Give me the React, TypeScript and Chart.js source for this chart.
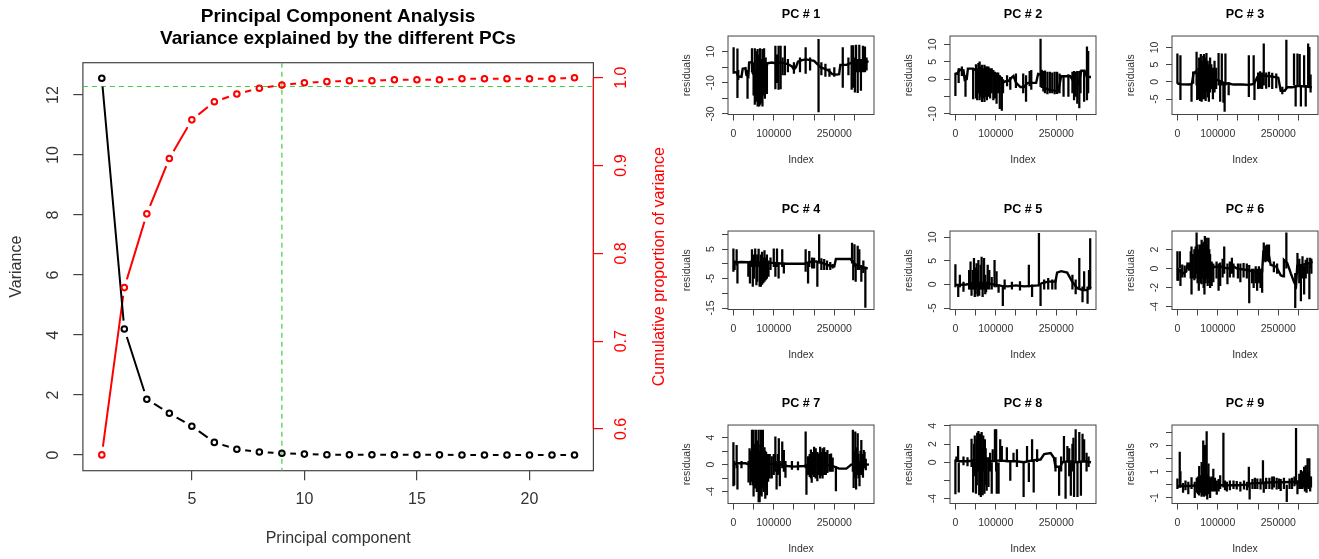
import React, { useEffect, useRef } from "react";
import { Chart, registerables } from "chart.js";

Chart.register(...registerables);

const FONT = "'Liberation Sans', Arial, Helvetica, sans-serif";

// ---------------- Left chart: PCA scree plot ----------------
const pcNumbers = [1, 2, 3, 4, 5, 6, 7, 8, 9, 10, 11, 12, 13, 14, 15, 16, 17, 18, 19, 20, 21, 22];
const pcVariance = [12.56, 4.2, 1.86, 1.39, 0.96, 0.42, 0.19, 0.1, 0.06, 0.03, 0.01, 0.01, 0.01, 0.01, 0.01, 0.005, 0, 0, 0, 0, 0, 0];
const pcCumulative = [0.5705, 0.761, 0.845, 0.908, 0.952, 0.9727, 0.9814, 0.988, 0.9916, 0.9943, 0.9955, 0.9966, 0.9966, 0.9977, 0.9977, 0.9977, 0.9989, 0.9989, 0.9989, 0.9989, 0.9989, 1.0];
const pcXTicks = [5, 10, 15, 20];
const pcXTickLabels = ["5", "10", "15", "20"];
const varianceTicks = [0, 2, 4, 6, 8, 10, 12];
const varianceTickLabels = ["0", "2", "4", "6", "8", "10", "12"];
const cumulativeTicks = [0.6, 0.7, 0.8, 0.9, 1.0];
const cumulativeTickLabels = ["0.6", "0.7", "0.8", "0.9", "1.0"];
const cutoffComponent = 9;
const cutoffProportion = 0.99;

// ---------------- Residual panels (index in thousands) ----------------
const indexTicks = [0, 50, 100, 150, 200, 250, 300];
const indexTickLabels = ["0", "", "100000", "", "", "250000", ""];

const pc1Level = [[0,-3],[8,-3.5],[12,-6],[20,-6.3],[23,-1],[30,-0.6],[32,-5],[37,-6],[39,3],[46,3.2],[48,-4],[55,-5.4],[65,-5],[72,-5.5],[80,-4],[84,2.5],[95,3],[105,2.5],[115,3],[125,2.6],[135,2],[145,0.5],[150,-1.5],[155,0],[160,3.5],[170,4.5],[180,5],[190,4.5],[200,4],[208,2],[215,0],[225,-1],[235,-2],[245,-4.5],[255,-4.8],[262,-4.5],[265,1.5],[280,1.5],[295,3],[310,4],[320,4],[335,3.5]];
const pc1Spikes = [[0.5,-4,12.5],[10,-19.6,11.7],[12,-8,-2],[35,-20,-2],[46,-3,12],[50,-18,3],[53,-24,12],[56,-22,-2],[58,-12,10],[60,-25,11.5],[62,-20,0],[64,-25,8],[66,-24,12],[68,-15,5],[70,-23,-3],[72,-25,11.5],[74,-18,4],[76,-12,12],[78,-20,3],[80,-16,6],[83,-17,3],[104,-14,13.6],[108,-10,8],[112,-14.3,13.6],[117,-14,13.6],[122,-5,6],[127.5,-5,13.6],[135,-3,5],[150,-4,3],[165,-3,6],[179,-4,12.5],[190,-2,6],[211,-28.7,17.8],[218,-5,3],[228,-6,2],[238,-6,-1],[250,-6,0],[271,-13,12.5],[285,-5,6],[293,-14.3,13.8],[297,-13,13.8],[301,-16,6],[304,-3,14.2],[308,-16.4,5],[312,-3,14.2],[316,-15,5],[321,-3,13.5],[326,-3,13],[330,-2,6]];
const pc1YTicks = [-30, -20, -10, 0, 10];
const pc1YLabels = ["-30", "", "-10", "", "10"];

const pc2Level = [[0,1.7],[5,1.5],[10,2.7],[20,2.5],[23,-0.2],[28,0],[31,3],[44,3],[51,2.5],[60,2.2],[70,2.5],[80,2.3],[94,1.2],[100,-1],[106,1],[112,0.5],[118,-1],[123,-0.7],[132,-0.5],[140,0.5],[144,0.9],[150,-1],[161,-2.3],[170,-2.3],[175,-1.5],[180,-1.1],[200,-1.1],[205,1.5],[215,1.2],[219,-2.5],[235,-3.2],[255,-3.5],[262,0.8],[285,0.8],[294,-1],[305,-1.5],[312,2.4],[320,2.4],[326,0.6],[336,0.6]];
const pc2Spikes = [[0,-4.8,1.7],[8,-1,3],[16,1,3.5],[25,-5,1],[44,-5.7,3],[51,-5.5,4.2],[54,-6,3],[57,-4,4.5],[60,-6,5],[63,-5,3.5],[66,-6.5,4],[69,-5.5,3],[72,-6.5,4],[75,-5,3.5],[78,-6,3.5],[82,-5,3.5],[86,-5.5,3],[90,-4,3],[94,-6,2.5],[98,-5.5,2],[102,-7,1.8],[106,-4,1.8],[110,-8.5,1],[115,-9,0.5],[118,-4,0],[128,-2,1],[136,-3,0.5],[150,-2.5,1.5],[168,-4,1.5],[175,-6.4,1],[184,-2,2.2],[188,-3,2.5],[211,-2.2,11.5],[214,-2.5,2.6],[218,-3.5,2.2],[222,-4,2.4],[228,-4.3,2],[234,-4,2],[240,-4,1.8],[246,-4.3,2],[252,-4.2,2],[258,-4,1.5],[268,-5,1],[280,-5,1.3],[290,-4,2],[294,-6,2.2],[298,-5,2],[302,-7,2.2],[307,-8.3,2.2],[310,-4,2.4],[319,-6.4,2.4],[326,-6,9.3],[329,-4,8]];
const pc2YTicks = [-10, -5, 0, 5, 10];
const pc2YLabels = ["-10", "", "0", "5", "10"];

const pc3Level = [[0,-0.5],[10,-0.7],[30,-0.8],[36,-0.5],[40,2.5],[45,2.9],[52,1.5],[60,1.4],[70,0.8],[80,1],[90,0.5],[100,0.5],[110,0],[118,-0.5],[127,-0.5],[139,-0.8],[160,-0.8],[177,-0.9],[190,-0.6],[198,1.4],[210,1.8],[230,1.6],[250,1.2],[256,-2.6],[266,-2.6],[272,-1.6],[285,-1.6],[300,-1.2],[320,-1.4],[333,-1.6]];
const pc3Spikes = [[0,-0.5,8.1],[7.5,-5.2,7.6],[35,-5.7,-0.5],[39,-0.5,2.9],[47.5,-1,8.6],[49,-5.2,1],[52,-5,4],[54,-4,7],[56,-5.5,5],[58,-4,8],[60,-5.7,6],[62,-5,4.5],[64,-3,7.5],[66,-5,8],[68,-4,6],[70,-5.5,7],[72,-3,8.3],[75,-4.5,6],[78,-5.7,5],[81,-3,7],[84,-2,5],[88,-5,4],[92,-3,6],[96,-2,4],[102,-1,8.3],[106,-5.7,0],[110,-1,8.1],[114,-6,0],[117,-8.6,0],[119,-1,8.1],[127,-3.8,0],[177,-4.3,7.6],[189,-0.5,7.6],[191,-5.2,-0.5],[200,-2,2.6],[205,-1.9,3],[210,-2,2.6],[214,-1,11],[220,-1.9,2.6],[227,-1.5,2.8],[235,-2,2.5],[245,-1.8,2.3],[260,-3.5,-1.5],[270,-2,12.1],[289,-1,8.1],[293,-7.1,-1],[297.5,-1,8.1],[303,-1,8],[306,-7.1,-1],[314,-1,7.6],[318,-7.1,-1],[324,-1.5,11],[327,-1.5,10],[330,-3,2]];
const pc3YTicks = [-5, 0, 5, 10];
const pc3YLabels = ["-5", "0", "5", "10"];

const pc4Level = [[0,0.5],[10,0.5],[20,0.6],[37,0.5],[45,0.8],[60,0.5],[80,0.3],[100,0.3],[125,0],[150,0],[175,0],[190,0.6],[205,0.8],[220,0.3],[235,-0.5],[250,-0.9],[254,1.6],[275,1.6],[290,1.6],[300,0],[315,-1],[327,-1.5],[333,-1.5]];
const pc4Spikes = [[0,-2.6,5.1],[3,-2,1],[8,-0.5,4.8],[10,-6.6,0.5],[37,-4.3,0.5],[41,-6.6,0.5],[46,-1,4.8],[48,-7.7,0.5],[51,-5,3],[54,-1,5.1],[57,-7.2,0.5],[59,-6,3],[62.5,-1,5],[65,-7.7,0.5],[68,-7.7,3],[71,-7,4],[74,-6.5,2],[77,-6,4.5],[80,-5.5,2],[83,-5,3],[87,-4.3,1],[92,-2,2],[100,-1,5.1],[104,-4.3,0.5],[108,-1,5.1],[112,-4.9,0.3],[121,-1,4.8],[125,-3.2,0.3],[179,-2.6,4.8],[185,-6.6,0],[188,-1,4.2],[195,-1.5,2],[200,-1.5,1.9],[208,-7.7,0.5],[212.5,0,9.9],[218,-2,1.8],[225,-2,1.5],[232,-2,1],[240,-2,0.5],[246,-1.5,0],[294,0,7],[297,-5.5,1],[300,-1,6.5],[303,-6,0],[308,-2,6],[312,-2,4.8],[317,-6,-0.5],[322,-3,1],[327,-14.8,-1]];
const pc4YTicks = [-15, -10, -5, 0, 5, 10];
const pc4YLabels = ["-15", "", "-5", "", "5", ""];

const pc5Level = [[0,-0.1],[10,-0.1],[27,0],[40,0.2],[60,0.3],[80,0.2],[100,-0.1],[115,-0.3],[130,-0.4],[150,-0.2],[170,-0.4],[190,-0.3],[205,-0.2],[215,0.3],[230,0.6],[248,0.6],[252,2.5],[262,2.8],[277,2.5],[290,0.5],[302,-0.8],[315,-1.2],[325,-1.2],[336,-0.5]];
const pc5Spikes = [[0,-0.5,4.2],[7,-2.6,0],[11,-0.5,2],[20,-1.5,0.5],[34,-1,3],[37.5,-1,4.8],[40,-2.3,0.5],[43,-1,3],[46,-1,5.5],[48,-2.6,0.5],[50,-2,3.5],[52.5,-1,4.4],[55,-2.5,3],[57,-1,5.1],[59,-2.3,0.5],[62.5,-1,4.1],[65,-1,5.8],[67.5,-2.6,0.5],[71,-1,5.5],[74,-2,2],[76,-1.6,0.5],[80,-1,4.1],[84,-1,3],[90,-1,1.5],[97,-0.5,5.1],[102,-0.5,2.7],[107,-1.7,0],[117.5,-4.5,-0.3],[122,-1,1],[140,-1,0.5],[160,-1.2,0.6],[182,-0.5,4.1],[190,-2.6,0],[207,-0.3,10.8],[211,-4.5,0],[220,-1,1],[230,-1,1.3],[240,-1,1],[248,-1,1],[290,-1,2],[298,-2,1],[307,-1,5.5],[315,-3.7,-0.5],[319,-1,2.7],[327.5,-4,-0.5],[331,-1,3],[334,-1,9.7]];
const pc5YTicks = [-5, 0, 5, 10];
const pc5YLabels = ["-5", "0", "5", "10"];

const pc6Level = [[0,0],[6,-0.3],[15,-0.5],[22,-0.3],[25,0.5],[31,0.3],[40,0.5],[50,0.7],[60,0.8],[70,0.6],[80,0.5],[85,0],[93,0.2],[110,0.2],[124,0],[140,0.2],[148,0],[165,-0.1],[178,-0.2],[190,-0.35],[205,-0.35],[210,-0.3],[213,1.8],[225,1.8],[231,0.4],[245,0.2],[256,-0.7],[262,-0.8],[264,0.9],[272,0.6],[277,0],[281,-0.5],[289,-1.4],[294,-1.8],[297,0.3],[310,0.4],[320,0.5],[335,0.7]];
const pc6Spikes = [[0,-1.25,1.8],[2,-1.25,0],[6,0,1.8],[7.5,-1.8,0],[12,-0.9,0.4],[18,-0.9,0.3],[29,-0.2,0.6],[33,-1,1.8],[35,-2.7,2.3],[38,-1,1.5],[42,-1.2,2],[45,-1,2.3],[47.5,-0.5,3.75],[50,-1.5,2.5],[53,-2.3,2],[56,-1,2.5],[58,-1.5,2.3],[60,-1.6,3],[63,-1,2.6],[65,-2,2.8],[67,-2.7,2],[68,-1,3.4],[70,-1.5,2.5],[72.5,-1,3.2],[75,-1.8,2.5],[77,-1,3.2],[79,-1.5,2],[81,-2,1.5],[85,-1.8,0.7],[89,-1.4,0.5],[97,-1,0.7],[102,-2.3,0.5],[106,-1.8,0.6],[112,-0.9,1],[116,-0.5,2.3],[124,-1.6,0.5],[130,-0.9,0.7],[135,-0.5,1.1],[139,-0.9,0.5],[150,-1,0.5],[156,-1.4,0.5],[164,-0.9,0.55],[172,-1,0.5],[178,-3.6,0.35],[185,-1.5,0],[189,-2,0],[194,-1.5,0.2],[197.5,-2.3,0],[202,-1.5,0.2],[206,-2,0],[210,-2.5,0],[214,0.8,2.7],[218,0.7,2.4],[222,0.8,2.5],[227,0.7,2.5],[239,-0.35,0.7],[247,-0.5,0.5],[270,0,3.75],[292,-4.1,-0.5],[297.5,-0.5,1.6],[302,-1.5,1],[306,-3.4,0.3],[310,-1,1.25],[314,-2.7,0.3],[318,-1,0.9],[322,-0.5,1.1],[327,-3.2,0.5],[329,0,1.1],[332,-0.5,1]];
const pc6YTicks = [-4, -2, 0, 2];
const pc6YLabels = ["-4", "-2", "0", "2"];

const pc7Level = [[0,0],[10,0.2],[30,0.2],[40,0],[60,0.1],[80,0],[100,0.1],[120,0],[133,-0.2],[150,-0.3],[175,-0.2],[190,0],[220,0.1],[250,-0.3],[262,-0.6],[280,-0.6],[292,0],[310,0.1],[336,0]];
const pc7Spikes = [[0,-3.15,3.25],[2,-3,0.5],[8,-0.5,2.85],[10,-3.65,0],[20,-0.5,0.5],[37.5,-2.6,0.5],[40,-0.5,2.35],[42,-3,1],[44,-2,2],[46,-2.5,5.1],[48,-3,2],[50,-4.65,5.1],[52,-2.5,3],[54,-3.5,2],[56,-3,5.1],[58,-4,2.5],[60,-3,3.5],[62.5,-5.5,5.1],[65,-5.5,2],[67,-4,3],[68,-4.5,5.1],[70,-4.65,2.5],[71,-3,3],[73,-3.5,5.1],[75,-4,2],[77,-3,2.5],[79,-5,2],[81,-3,1.8],[83,-4.5,1.5],[86,-2.5,1.5],[90,-2,1.5],[95,-2,1.2],[100,-1.5,1.5],[104,-1,4.1],[107,-3.65,0.5],[110,-1.5,1.5],[112.5,-1,3.85],[115,-3.15,0.5],[121,-0.5,3.35],[125,-1,2.1],[129,-1.9,0.5],[145,-0.7,0.5],[160,-0.8,0.4],[179,-0.5,4.85],[181,-4.4,0],[185,-1.5,1.2],[189,-1.8,1.5],[192,-2,2.2],[194,-2.65,1],[197,-1.5,1.8],[200,-1.8,2.6],[204,-2,2.35],[208,-2.4,1.8],[212,-1.5,1.6],[215,-2,2.6],[218,-1.6,1.8],[221,-2,2.35],[225,-1.5,2.5],[229,-1.5,1.8],[233,-1.2,2.1],[238,-1,1.5],[242,-1,1.6],[246,-1,1],[254,-3.9,-0.3],[296,-1,5.1],[298,-3.4,0.5],[300,-2,2],[302,-1,4.85],[304,-3.65,0],[306,-1.5,2.5],[308,-1,4.6],[310,-2,1.5],[312.5,-3.15,0.5],[315,-1.5,2],[317,-0.5,3.6],[319,-1.5,1.5],[321,-1.9,0.5],[323,-0.5,2.1],[325,-0.5,1.85],[328,-0.8,0.8]];
const pc7YTicks = [-4, -2, 0, 2, 4];
const pc7YLabels = ["-4", "", "0", "", "4"];

const pc8Level = [[0,0.25],[10,0.1],[30,0.1],[50,0.2],[70,0.2],[90,0.1],[110,0.2],[130,0.1],[150,0.1],[170,0],[190,0.2],[211,0.3],[220,0.9],[236,1],[244,0.5],[248,-0.5],[260,-0.5],[265,0],[280,0.1],[300,0],[320,0.1],[336,0]];
const pc8Spikes = [[0,-3.5,0.25],[2.5,0,0.6],[6.7,0,1.75],[8.3,-3.3,0],[20,-0.3,0.6],[30,-0.4,0.5],[40,-0.5,2.55],[44,-3.3,0.3],[46,-1.5,2],[48,-0.5,2.9],[51,-3.45,0],[53,-2.5,2.5],[54,-1,3.2],[57,-1,3.4],[59,-3.6,0],[61,-2,3.1],[63,-3.8,1],[65,-2,3.3],[67.5,-3.6,1.5],[69,-1,2.9],[72,-3.45,0.5],[73,-0.5,2.5],[75,-2.5,1.5],[77.5,-3.1,0.5],[82,-2.7,0.5],[86,-1,1],[90,-3.45,0],[92.5,0,1.4],[98,0,3.6],[101,-1,3.6],[102.5,-3.45,0],[107,-3.45,0],[111,0,2.5],[115,0,1.75],[127.5,0,1.6],[136,-2,0.2],[144,0,1],[152.5,-0.5,1.4],[169,-3.8,0],[177.5,0,1.75],[182,-2.15,0],[190,0,2.5],[194,-3.3,0.2],[202.5,0,1.4],[248,-1,0.5],[257,-3.65,-0.5],[262,-1,0.6],[269,0,2.85],[273,-4,0],[277.5,0,1.75],[282,-1.5,1.5],[286,-3.65,0],[290,-1,2],[292.5,0,2.65],[294,-3.8,0],[298,0,3.6],[302.5,-3.8,0],[307,0,3.3],[311,-3.65,0],[315,0,3.1],[319,0,2.5],[325,-1,1],[330,-0.5,0.6]];
const pc8YTicks = [-4, -2, 0, 2, 4];
const pc8YLabels = ["-4", "", "0", "2", "4"];

const pc9Level = [[0,-0.15],[10,-0.1],[30,-0.1],[50,-0.05],[70,0],[90,-0.05],[110,-0.05],[130,-0.05],[150,-0.05],[170,0],[181,0.1],[200,0.12],[214,0.15],[240,0.18],[260,0.18],[280,0.2],[300,0.22],[320,0.25],[333,0.1]];
const pc9Spikes = [[0,-0.3,0.45],[5.8,-0.2,2.5],[7.5,-0.2,1],[14,-0.6,0.1],[20,-0.4,0.3],[27,-0.7,0.2],[35,-0.3,0.55],[43,-1,0.2],[48,-0.6,0.5],[51,-0.7,0.6],[54,-0.8,1.4],[57,-0.6,0.7],[60,-0.9,1.7],[62,-0.7,0.8],[64,-0.8,3.35],[66,-0.9,1],[68,-0.7,3],[70,-0.8,1.2],[72.5,-0.8,4.05],[74,-1.1,0.8],[77,-0.7,1.6],[79,-0.6,0.6],[81,-1,0.5],[85,-0.5,0.6],[89,-0.5,1.2],[93,-0.5,0.5],[97.5,-0.75,0.3],[102,-0.5,0.4],[106,-0.3,0.7],[114,-0.2,3.95],[118,-0.4,0.3],[122.5,-0.5,0.2],[130,-0.4,0.3],[139,-0.3,0.3],[147,-0.35,0.25],[156,-0.5,0.2],[165,-0.35,0.3],[172.5,-0.4,0.2],[177,-0.2,1.35],[179,-1.1,0.1],[186,-0.3,0.4],[192,-0.3,0.5],[198,-0.3,0.45],[206,-0.35,0.45],[212,0,1.85],[214,-0.6,0.2],[220,-0.3,0.5],[228,-0.3,0.5],[235,-0.35,0.6],[239,-0.2,0.6],[246,-0.35,0.5],[252,-0.3,0.45],[256,-0.45,0.4],[264,-0.3,0.5],[271,-1.3,0],[278,-0.3,0.45],[284,-0.3,0.5],[290,-0.1,0.6],[294,0,4.3],[297.5,-0.7,0.3],[302,-0.3,0.8],[306,-0.3,1.1],[310,-0.3,1],[314,-0.2,1.35],[316,-0.5,0.8],[318,-0.2,1.45],[320,-0.6,0.9],[322.5,-0.2,2],[325,-0.3,1],[327,0,2],[329,-0.5,0.6],[331,-0.2,0.6]];
const pc9YTicks = [-1, 0, 1, 2, 3, 4];
const pc9YLabels = ["-1", "", "1", "", "3", ""];

const panels = [
  { title: "PC # 1", level: pc1Level, spikes: pc1Spikes, yMin: -30.4, yMax: 20, yTicks: pc1YTicks, yLabels: pc1YLabels },
  { title: "PC # 2", level: pc2Level, spikes: pc2Spikes, yMin: -10.2, yMax: 12.4, yTicks: pc2YTicks, yLabels: pc2YLabels },
  { title: "PC # 3", level: pc3Level, spikes: pc3Spikes, yMin: -9.5, yMax: 13.3, yTicks: pc3YTicks, yLabels: pc3YLabels },
  { title: "PC # 4", level: pc4Level, spikes: pc4Spikes, yMin: -15.5, yMax: 11.1, yTicks: pc4YTicks, yLabels: pc4YLabels },
  { title: "PC # 5", level: pc5Level, spikes: pc5Spikes, yMin: -5.3, yMax: 11.3, yTicks: pc5YTicks, yLabels: pc5YLabels },
  { title: "PC # 6", level: pc6Level, spikes: pc6Spikes, yMin: -4.3, yMax: 3.95, yTicks: pc6YTicks, yLabels: pc6YLabels },
  { title: "PC # 7", level: pc7Level, spikes: pc7Spikes, yMin: -5.75, yMax: 5.85, yTicks: pc7YTicks, yLabels: pc7YLabels },
  { title: "PC # 8", level: pc8Level, spikes: pc8Spikes, yMin: -4.55, yMax: 4.1, yTicks: pc8YTicks, yLabels: pc8YLabels },
  { title: "PC # 9", level: pc9Level, spikes: pc9Spikes, yMin: -1.44, yMax: 4.56, yTicks: pc9YTicks, yLabels: pc9YLabels },
];

// ---------------- helpers / plugins ----------------
function measure(text: string, size: number): number {
  const c = document.createElement("canvas").getContext("2d")!;
  c.font = `${size}px ${FONT}`;
  return c.measureText(text).width;
}

const boxPlugin = {
  id: "rbox",
  beforeDatasetsDraw(chart: any, _a: any, opts: any) {
    const { ctx, chartArea: a } = chart;
    ctx.save();
    ctx.strokeStyle = opts.color || "#444";
    ctx.lineWidth = opts.width || 1;
    ctx.strokeRect(a.left, a.top, a.right - a.left, a.bottom - a.top);
    ctx.restore();
  },
};

const gapPlugin = {
  id: "rgap",
  beforeDatasetDraw(chart: any, args: any) {
    const ds = chart.data.datasets[args.index];
    if (!ds.gapRadius) return;
    const ctx = chart.ctx;
    ctx.save();
    ctx.beginPath();
    ctx.rect(0, 0, chart.width, chart.height);
    for (const el of args.meta.data) {
      ctx.moveTo(el.x + ds.gapRadius, el.y);
      ctx.arc(el.x, el.y, ds.gapRadius, 0, Math.PI * 2);
    }
    ctx.clip("evenodd");
  },
  afterDatasetDraw(chart: any, args: any) {
    const ds = chart.data.datasets[args.index];
    if (!ds.gapRadius) return;
    chart.ctx.restore();
  },
};

const pcaExtras = {
  id: "pcaExtras",
  beforeDatasetsDraw(chart: any) {
    const { ctx, chartArea: a, scales } = chart;
    ctx.save();
    ctx.strokeStyle = "#44cc44";
    ctx.lineWidth = 1.2;
    ctx.setLineDash([5, 4]);
    const hy = scales.y2.getPixelForValue(cutoffProportion);
    ctx.beginPath();
    ctx.moveTo(a.left, hy);
    ctx.lineTo(a.right, hy);
    const vx = scales.x.getPixelForValue(cutoffComponent);
    ctx.moveTo(vx, a.top);
    ctx.lineTo(vx, a.bottom);
    ctx.stroke();
    ctx.restore();
  },
  afterDatasetsDraw(chart: any) {
    const { ctx, chartArea: a, scales } = chart;
    ctx.save();
    ctx.strokeStyle = "#ff0000";
    ctx.lineWidth = 1.2;
    ctx.beginPath();
    ctx.moveTo(a.right, scales.y2.getPixelForValue(cumulativeTicks[0]));
    ctx.lineTo(a.right, scales.y2.getPixelForValue(cumulativeTicks[cumulativeTicks.length - 1]));
    ctx.stroke();
    ctx.restore();
  },
  afterDraw(chart: any) {
    const { ctx, chartArea: a } = chart;
    ctx.save();
    ctx.translate(a.right + 66.6, (a.top + a.bottom) / 2);
    ctx.rotate(-Math.PI / 2);
    ctx.fillStyle = "#ff0000";
    ctx.font = `16px ${FONT}`;
    ctx.textAlign = "center";
    ctx.textBaseline = "middle";
    ctx.fillText("Cumulative proportion of variance", 0, 0);
    ctx.restore();
  },
};

// ---------------- components ----------------
function PcaChart() {
  const ref = useRef<HTMLCanvasElement>(null);
  useEffect(() => {
    const leftWidest = Math.max(...varianceTickLabels.map((l) => measure(l, 16)));
    const rightWidest = Math.max(...cumulativeTickLabels.map((l) => measure(l, 16)));
    const varPts = pcNumbers.map((x, i) => ({ x, y: pcVariance[i] }));
    const cumPts = pcNumbers.map((x, i) => ({ x, y: pcCumulative[i] }));
    const tickFont = { family: FONT, size: 16 };
    const chart = new Chart(ref.current!, {
      type: "line",
      data: {
        datasets: [
          { label: "Variance points", data: varPts, yAxisID: "y", showLine: false, pointRadius: 2.8, pointBorderWidth: 2, pointBorderColor: "#000", pointBackgroundColor: "rgba(0,0,0,0)", order: 0 },
          { label: "Cumulative points", data: cumPts, yAxisID: "y2", showLine: false, pointRadius: 2.8, pointBorderWidth: 2, pointBorderColor: "#ff0000", pointBackgroundColor: "rgba(0,0,0,0)", order: 0 },
          { label: "Variance", data: varPts, yAxisID: "y", borderColor: "#000", borderWidth: 2, pointRadius: 0, gapRadius: 8.5, order: 1 } as any,
          { label: "Cumulative", data: cumPts, yAxisID: "y2", borderColor: "#ff0000", borderWidth: 2, pointRadius: 0, gapRadius: 8.5, order: 1 } as any,
        ],
      },
      options: {
        animation: false,
        responsive: false,
        events: [],
        layout: { padding: 0 },
        plugins: {
          legend: { display: false },
          tooltip: { enabled: false },
          title: {
            display: true,
            text: ["Principal Component Analysis", "Variance explained by the different PCs"],
            color: "#000",
            font: { family: FONT, size: 19, weight: "bold", lineHeight: "22px" },
            padding: { top: 6, bottom: 12.7 },
          },
          rbox: { color: "#444", width: 1.2 },
        } as any,
        scales: {
          x: {
            type: "linear",
            min: 0.16,
            max: 22.84,
            afterBuildTicks: (s: any) => { s.ticks = pcXTicks.map((v) => ({ value: v })); },
            afterFit: (s: any) => { s.height = 88.3; },
            grid: { drawOnChartArea: false, drawTicks: true, tickLength: 9.6, color: "#444", lineWidth: 1.2 },
            border: { display: false },
            ticks: { autoSkip: false, minRotation: 0, maxRotation: 0, padding: 10.1, color: "#333", font: tickFont, callback: (_v: any, i: number) => pcXTickLabels[i] },
            title: { display: true, text: "Principal component", color: "#333", font: tickFont, padding: { top: 0, bottom: 10.4 } },
          },
          y: {
            type: "linear",
            position: "left",
            min: -0.523,
            max: 13.077,
            afterBuildTicks: (s: any) => { s.ticks = varianceTicks.map((v) => ({ value: v })); },
            afterFit: (s: any) => { s.width = 82.9; },
            grid: { drawOnChartArea: false, drawTicks: true, tickLength: 9.6, color: "#444", lineWidth: 1.2 },
            border: { display: false },
            ticks: { autoSkip: false, minRotation: 90, maxRotation: 90, crossAlign: "center", padding: 29.6 - 9.6 - leftWidest / 2, color: "#333", font: tickFont, callback: (_v: any, i: number) => varianceTickLabels[i] },
            title: { display: true, text: "Variance", color: "#333", font: tickFont, padding: { top: 7.4, bottom: 0 } },
          },
          y2: {
            type: "linear",
            position: "right",
            min: 0.5525,
            max: 1.0171,
            afterBuildTicks: (s: any) => { s.ticks = cumulativeTicks.map((v) => ({ value: v })); },
            afterFit: (s: any) => { s.width = 82.6; },
            grid: { drawOnChartArea: false, drawTicks: true, tickLength: 9.6, color: "#ff0000", lineWidth: 1.2 },
            border: { display: false },
            ticks: { autoSkip: false, minRotation: 90, maxRotation: 90, crossAlign: "center", padding: 28.3 - 9.6 - rightWidest / 2, color: "#ff0000", font: tickFont, callback: (_v: any, i: number) => cumulativeTickLabels[i] },
          },
        } as any,
      },
      plugins: [boxPlugin, gapPlugin, pcaExtras],
    });
    return () => chart.destroy();
  }, []);
  return <canvas ref={ref} width={676} height={559} style={{ position: "absolute", left: 0, top: 0, width: 676, height: 559 }} />;
}

const PANEL_W = 266;
const PANEL_H = 175;

function ResidualPanel({ def, left, top }: { def: any; left: number; top: number }) {
  const ref = useRef<HTMLCanvasElement>(null);
  useEffect(() => {
    const size = 10.5;
    const widest = Math.max(...def.yLabels.map((l: string) => measure(l, size)));
    const tickFont = { family: FONT, size };
    const levelPts = def.level.map((p: number[]) => ({ x: p[0], y: p[1] }));
    const spikePts = def.spikes.map((p: number[]) => ({ x: p[0], y: [p[1], p[2]] }));
    const chart = new Chart(ref.current!, {
      type: "bar",
      data: {
        datasets: [
          { type: "line", label: "residuals", data: levelPts, yAxisID: "y", borderColor: "#000", borderWidth: 2.4, pointRadius: 0, order: 0 } as any,
          { type: "bar", label: "residual spikes", data: spikePts, yAxisID: "y", backgroundColor: "#000", barThickness: 1.6, grouped: false, order: 1 } as any,
        ],
      },
      options: {
        animation: false,
        responsive: false,
        events: [],
        layout: { padding: 0 },
        plugins: {
          legend: { display: false },
          tooltip: { enabled: false },
          title: { display: true, text: def.title, color: "#000", font: { family: FONT, size: 12.6, weight: "bold", lineHeight: 1.2 }, padding: { top: 6.6, bottom: 14.3 } },
          rbox: { color: "#444", width: 1 },
        } as any,
        scales: {
          x: {
            type: "linear",
            min: -13.4,
            max: 348.4,
            offset: false,
            afterBuildTicks: (s: any) => { s.ticks = indexTicks.map((v) => ({ value: v })); },
            afterFit: (s: any) => { s.height = 60.5; },
            grid: { drawOnChartArea: false, drawTicks: true, tickLength: 6, color: "#444", lineWidth: 1, offset: false },
            border: { display: false },
            ticks: { autoSkip: false, minRotation: 0, maxRotation: 0, padding: 7.7, color: "#333", font: tickFont, callback: (_v: any, i: number) => indexTickLabels[i] },
            title: { display: true, text: "Index", color: "#333", font: tickFont, padding: { top: 0, bottom: 8.7 } },
          },
          y: {
            type: "linear",
            position: "left",
            min: def.yMin,
            max: def.yMax,
            beginAtZero: false,
            afterBuildTicks: (s: any) => { s.ticks = def.yTicks.map((v: number) => ({ value: v })); },
            afterFit: (s: any) => { s.width = 60; },
            grid: { drawOnChartArea: false, drawTicks: true, tickLength: 6, color: "#444", lineWidth: 1 },
            border: { display: false },
            ticks: { autoSkip: false, minRotation: 90, maxRotation: 90, crossAlign: "center", padding: 17 - 6 - widest / 2, color: "#333", font: tickFont, callback: (_v: any, i: number) => def.yLabels[i] },
            title: { display: true, text: "residuals", color: "#333", font: tickFont, padding: { top: 13.2, bottom: 0 } },
          },
          rightMargin: {
            type: "linear",
            position: "right",
            display: true,
            min: 0,
            max: 1,
            afterFit: (s: any) => { s.width = 60; },
            grid: { display: false },
            border: { display: false },
            ticks: { display: false },
          },
        } as any,
      },
      plugins: [boxPlugin],
    });
    return () => chart.destroy();
  }, [def]);
  return <canvas ref={ref} width={PANEL_W} height={PANEL_H} style={{ position: "absolute", left, top, width: PANEL_W, height: PANEL_H }} />;
}

export default function App() {
  return (
    <div style={{ position: "absolute", left: 0, top: 0, width: 1319, height: 559, overflow: "hidden", background: "#fff" }}>
      <PcaChart />
      {panels.map((p, i) => (
        <ResidualPanel key={p.title} def={p} left={667.7 + 222.2 * (i % 3)} top={194.5 * Math.floor(i / 3)} />
      ))}
    </div>
  );
}
